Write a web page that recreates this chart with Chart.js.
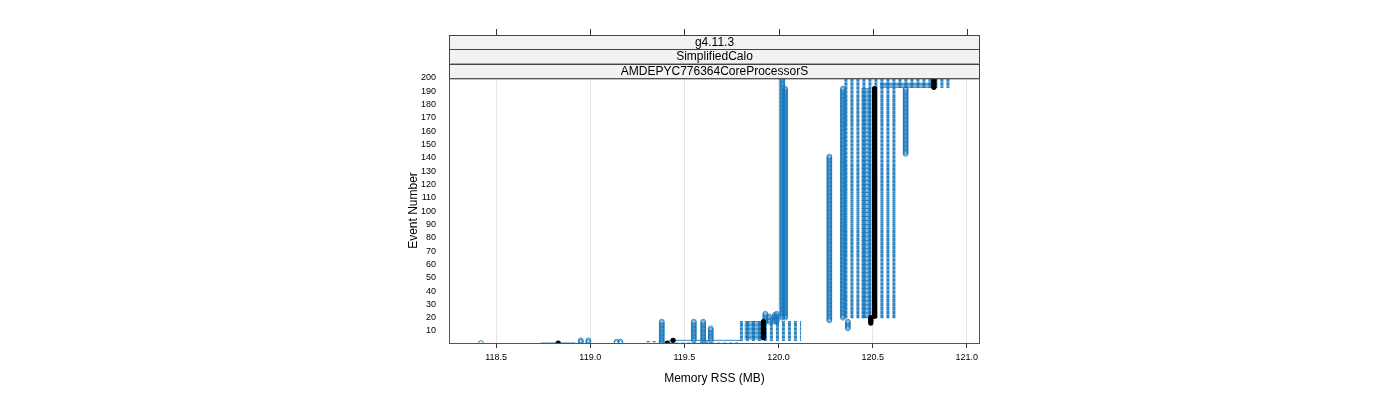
<!DOCTYPE html>
<html lang="en">
<head>
  <meta charset="UTF-8">
  <title>Memory RSS vs Event Number</title>
  <script src="https://cdn.jsdelivr.net/npm/chart.js"></script>
  <style>
    * { box-sizing: border-box; }
    body { margin: 0; background: #fff; }
    #wrap { width: 1400px; height: 400px; }
  </style>
</head>
<body>
  <div id="wrap"><canvas id="memChart" width="1400" height="400"></canvas></div>
  <script>
    // Panel strips (top to bottom)
    const stripLabels = ['g4.11.3', 'SimplifiedCalo', 'AMDEPYC776364CoreProcessorS'];
    const xTicks = [118.5, 119.0, 119.5, 120.0, 120.5, 121.0];
    const yTicks = [10, 20, 30, 40, 50, 60, 70, 80, 90, 100, 110, 120, 130, 140, 150, 160, 170, 180, 190, 200];

    // Runs holding one memory value over a range of events: [memory MB, first event, last event]
    const runColumns = [
      [118.42, 1, 1], [118.95, 1, 3], [118.99, 1, 3], [119.14, 1, 2], [119.16, 1, 2],
      [119.38, 1, 17], [119.55, 3, 17], [119.60, 2, 17], [119.61, 1, 1], [119.64, 3, 12],
      [119.93, 17, 23], [119.95, 17, 21], [119.98, 17, 22], [119.99, 17, 23],
      [120.02, 20, 200], [120.035, 20, 192],
      [120.27, 18, 141], [120.342, 20, 192], [120.368, 12, 17],
      [120.675, 143, 192]
    ];
    // Dashed jumps between runs at each event: [left MB, right MB, first event, last event]
    const dashedJumps = [
      [119.30, 119.42, 2, 2], [119.42, 119.80, 1, 1],
      [119.795, 120.12, 3, 17],
      [120.35, 120.63, 20, 192],
      [120.35, 120.91, 193, 200]
    ];
    // Overlapping jumps that read as solid lines
    const solidJumps = [
      [118.74, 118.92, 1, 1], [119.42, 119.80, 3, 3],
      [119.82, 119.91, 4, 17],
      [120.44, 120.49, 20, 192],
      [120.54, 120.83, 193, 196]
    ];
    // Reference run (black): [memory MB, first event, last event]
    const refColumns = [
      [118.83, 1, 1], [119.41, 1, 1], [119.44, 3, 3],
      [119.92, 5, 17], [120.49, 16, 20], [120.51, 21, 192], [120.825, 193, 199]
    ];

    function columnPoints(list) {
      const pts = [];
      list.forEach(([m, a, b]) => { for (let e = a; e <= b; e++) pts.push({ x: m, y: e }); });
      return pts;
    }
    function jumpPoints(list) {
      const pts = [];
      list.forEach(([l, r, a, b]) => {
        for (let e = a; e <= b; e++) pts.push({ x: l, y: e }, { x: r, y: e }, { x: l, y: null });
      });
      return pts;
    }

    const blue = 'rgba(22,118,186,0.85)';
    const panelDecor = {
      id: 'panelDecor',
      afterDraw(chart) {
        const { ctx, chartArea: a, scales: { x } } = chart;
        ctx.save();
        const h = (a.top - 35) / stripLabels.length;
        stripLabels.forEach((txt, i) => {
          const y0 = 35 + h * i;
          ctx.fillStyle = '#f2f2f2';
          ctx.fillRect(a.left, y0, a.right - a.left, h);
          ctx.strokeStyle = '#444'; ctx.lineWidth = 1;
          ctx.strokeRect(a.left + 0.5, Math.round(y0) + 0.5, a.right - a.left - 1, h);
          ctx.fillStyle = '#000'; ctx.font = '12px "Liberation Sans", Arial, sans-serif';
          ctx.textAlign = 'center'; ctx.textBaseline = 'middle';
          ctx.fillText(txt, (a.left + a.right) / 2, y0 + h / 2 + 0.5);
        });
        // top tick marks above the strips
        ctx.strokeStyle = '#333';
        xTicks.forEach(v => {
          const px = Math.round(x.getPixelForValue(v)) + 0.5;
          ctx.beginPath(); ctx.moveTo(px, 29); ctx.lineTo(px, 35); ctx.stroke();
        });
        ctx.strokeStyle = '#555';
        ctx.strokeRect(a.left + 0.5, a.top + 0.5, a.right - a.left - 1, a.bottom - a.top);
        ctx.restore();
      }
    };

    Chart.defaults.font.family = '"Liberation Sans", Arial, sans-serif';
    Chart.defaults.color = '#000';
    new Chart(document.getElementById('memChart'), {
      type: 'scatter',
      data: {
        datasets: [
          { data: columnPoints(refColumns), pointRadius: 2.6, pointBorderWidth: 0, pointBackgroundColor: '#000', pointBorderColor: '#000', showLine: false },
          { data: columnPoints(runColumns), pointRadius: 2.4, pointBorderWidth: 1, pointBackgroundColor: 'rgba(0,0,0,0)', pointBorderColor: blue, showLine: false },
          { data: jumpPoints(solidJumps), pointRadius: 0, showLine: true, borderColor: 'rgba(16,114,184,0.85)', borderWidth: 1 },
          { data: jumpPoints(dashedJumps), pointRadius: 0, showLine: true, borderColor: 'rgba(22,118,186,0.9)', borderWidth: 1.2, borderDash: [3, 3] }
        ]
      },
      options: {
        responsive: false,
        animation: false,
        events: [],
        layout: { padding: { left: 402, right: 420, top: 78, bottom: 10 } },
        plugins: { legend: { display: false }, tooltip: { enabled: false } },
        scales: {
          x: {
            type: 'linear', min: 118.25, max: 121.07,
            afterBuildTicks: s => { s.ticks = xTicks.map(v => ({ value: v })); },
            afterFit: s => { s.height = 47; },
            ticks: { font: { size: 9 }, padding: 4, maxRotation: 0, autoSkip: false, callback: v => v.toFixed(1) },
            grid: { color: '#e6e6e6', tickColor: '#333', tickLength: 5 },
            border: { display: false },
            title: { display: true, text: 'Memory RSS (MB)', font: { size: 12 }, padding: { top: 4, bottom: 4 } }
          },
          y: {
            type: 'linear', min: 1, max: 200,
            afterBuildTicks: s => { s.ticks = yTicks.map(v => ({ value: v })); },
            afterFit: s => { s.width = 47; },
            ticks: { font: { size: 9 }, padding: 5, autoSkip: false },
            grid: { display: false },
            border: { display: false },
            title: { display: true, text: 'Event Number', font: { size: 12 }, padding: { top: 4, bottom: 4 } }
          }
        }
      },
      plugins: [panelDecor]
    });
  </script>
</body>
</html>
